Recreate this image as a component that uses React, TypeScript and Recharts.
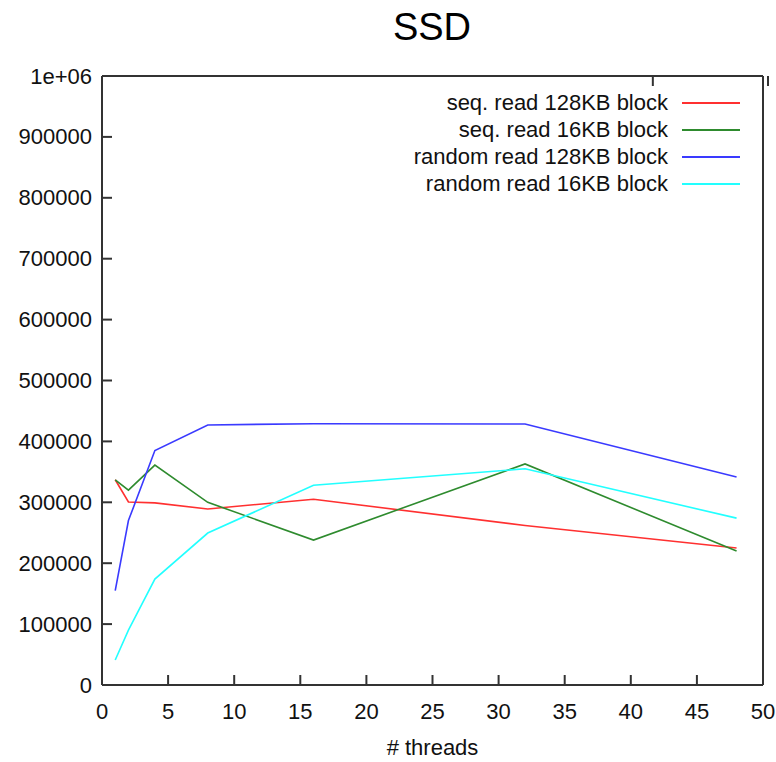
import React from 'react';
import { LineChart, Line, XAxis, YAxis } from 'recharts';

const threads = [1, 2, 4, 8, 16, 32, 48];
const seq128 = [337000, 300500, 299000, 289000, 305000, 262000, 225000];
const seq16 = [337000, 320000, 361000, 300000, 238000, 363000, 220000];
const rand128 = [155000, 270000, 385000, 427000, 429000, 428500, 341500];
const rand16 = [41000, 90000, 174000, 249500, 328000, 355000, 274000];

const xTicks = [0, 5, 10, 15, 20, 25, 30, 35, 40, 45, 50];
const yTicks = [0, 100000, 200000, 300000, 400000, 500000, 600000, 700000, 800000, 900000, 1000000];

const series = [
  { key: 'seq128', name: 'seq. read 128KB block', color: '#ff3030' },
  { key: 'seq16', name: 'seq. read 16KB block', color: '#2e8b2e' },
  { key: 'rand128', name: 'random read 128KB block', color: '#3a3aff' },
  { key: 'rand16', name: 'random read 16KB block', color: '#22ffff' },
];

const chartData = threads.map((t, i) => ({
  threads: t,
  seq128: seq128[i],
  seq16: seq16[i],
  rand128: rand128[i],
  rand16: rand16[i],
}));

const FONT = '"Liberation Sans", Arial, sans-serif';
const AXIS = '#333';
const TICK_LEN = 10;
const FS = 22;

const yLabel = (v: number) => (v === 1000000 ? '1e+06' : String(v));

const LeftTick = ({ x, y, payload }: any) => (
  <g>
    <line x1={x} x2={x + TICK_LEN} y1={y} y2={y} stroke={AXIS} strokeWidth={2} />
    <text x={x - 10} y={y} textAnchor="end" dominantBaseline="central" fontSize={FS} fill="#111" fontFamily={FONT}>
      {yLabel(payload.value)}
    </text>
  </g>
);

const RightTick = ({ x, y }: any) => (
  <line x1={x - TICK_LEN} x2={x} y1={y} y2={y} stroke={AXIS} strokeWidth={2} />
);

const BottomTick = ({ x, y, payload }: any) => (
  <g>
    <line x1={x} x2={x} y1={y} y2={y - TICK_LEN} stroke={AXIS} strokeWidth={2} />
    <text x={x} y={y + 34} textAnchor="middle" fontSize={FS} fill="#111" fontFamily={FONT}>
      {payload.value}
    </text>
  </g>
);

const TopTick = ({ x, y }: any) => (
  <line x1={x} x2={x} y1={y} y2={y + TICK_LEN} stroke={AXIS} strokeWidth={2} />
);

const App: React.FC = () => {
  return (
    <div style={{ position: 'absolute', left: 0, top: 0, width: 776, height: 762, background: '#fff', fontFamily: FONT }}>
      <div style={{ position: 'absolute', left: 0, width: 776, top: 6, textAlign: 'center', fontSize: 38, color: '#000', paddingLeft: 88, boxSizing: 'border-box' }}>
        SSD
      </div>
      <LineChart width={776} height={762} data={chartData} margin={{ top: 75, right: 12, bottom: 76, left: 101 }}>
        <XAxis
          dataKey="threads"
          type="number"
          domain={[0, 50]}
          ticks={xTicks}
          height={1}
          tickSize={0}
          tickMargin={0}
          tick={<BottomTick />}
          axisLine={{ stroke: AXIS, strokeWidth: 2 }}
        />
        <XAxis
          xAxisId="top"
          orientation="top"
          type="number"
          domain={[0, 50]}
          ticks={xTicks}
          height={1}
          tickSize={0}
          tickMargin={0}
          tick={<TopTick />}
          axisLine={{ stroke: AXIS, strokeWidth: 2 }}
        />
        <YAxis
          type="number"
          domain={[0, 1000000]}
          ticks={yTicks}
          width={1}
          tickSize={0}
          tickMargin={0}
          tick={<LeftTick />}
          axisLine={{ stroke: AXIS, strokeWidth: 2 }}
        />
        <YAxis
          yAxisId="right"
          orientation="right"
          type="number"
          domain={[0, 1000000]}
          ticks={yTicks}
          width={1}
          tickSize={0}
          tickMargin={0}
          tick={<RightTick />}
          axisLine={{ stroke: AXIS, strokeWidth: 2 }}
        />
        {series.map((s) => (
          <Line
            key={s.key}
            dataKey={s.key}
            name={s.name}
            stroke={s.color}
            strokeWidth={1.6}
            dot={false}
            type="linear"
            isAnimationActive={false}
          />
        ))}
      </LineChart>
      {series.map((s, i) => (
        <div key={s.key} style={{ position: 'absolute', top: 90 + i * 27, left: 360, width: 380, height: 26, display: 'flex', alignItems: 'center', justifyContent: 'flex-end' }}>
          <span style={{ fontSize: FS, color: '#111', marginRight: 14 }}>{s.name}</span>
          <span style={{ display: 'inline-block', width: 58, height: 2, background: s.color }} />
        </div>
      ))}
      <div style={{ position: 'absolute', left: 102, width: 661, top: 735, textAlign: 'center', fontSize: FS, color: '#111' }}>
        # threads
      </div>
    </div>
  );
};

export default App;
